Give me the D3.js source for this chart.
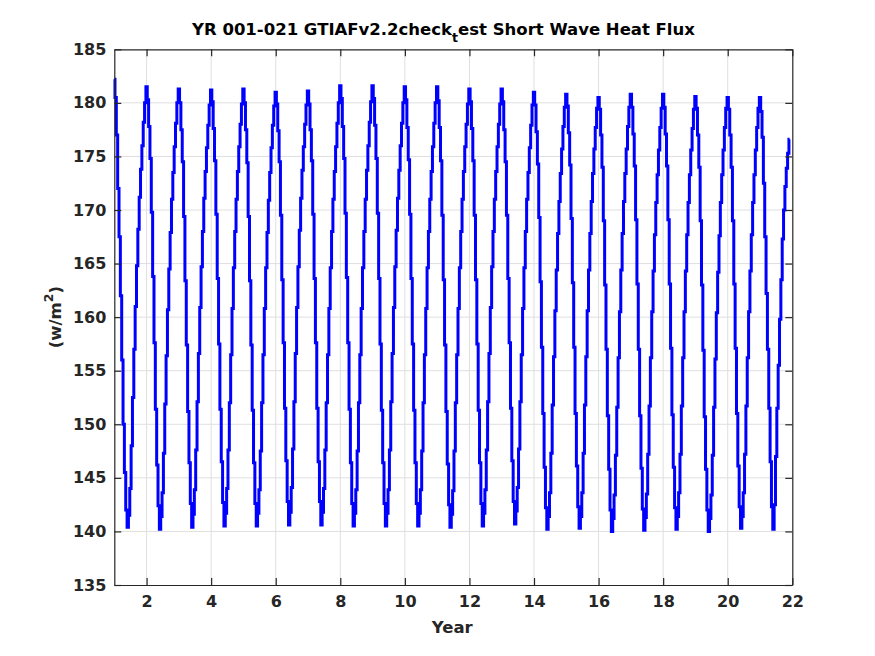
<!DOCTYPE html>
<html>
<head>
<meta charset="utf-8">
<script src="https://cdn.jsdelivr.net/npm/d3@7"></script>
<style>
  html, body { margin: 0; padding: 0; background: #ffffff; }
  svg { display: block; }
  text { font-family: "DejaVu Sans", "Liberation Sans", sans-serif; font-weight: bold; }
</style>
</head>
<body>
<svg id="chart" width="875" height="656"></svg>
<script>
// ---- data ----
const yearStarts = [1, 2, 3, 4, 5, 6, 7, 8, 9, 10, 11, 12, 13, 14, 15, 16, 17, 18, 19, 20, 21];
const samplesPerYear = 24;
// short wave heat flux (W/m^2), 24 samples per model year
const flux = [
  [182.2, 180.5, 177.0, 172.0, 167.5, 162.0, 156.0, 150.0, 145.5, 142.0, 140.4, 141.5, 144.0, 148.0, 152.5, 157.0, 161.0, 164.8, 168.2, 171.2, 173.8, 176.0, 178.2, 180.0],
  [181.5, 180.3, 177.8, 174.8, 169.8, 163.8, 157.6, 151.4, 146.2, 142.4, 140.2, 141.4, 143.6, 147.3, 151.9, 156.4, 160.7, 164.5, 167.9, 171.0, 173.5, 175.9, 178.1, 180.0],
  [181.3, 180.0, 177.5, 174.5, 169.4, 163.4, 157.4, 151.2, 146.4, 142.6, 140.4, 141.6, 143.9, 147.6, 152.1, 156.6, 160.9, 164.7, 168.0, 171.1, 173.6, 175.8, 177.9, 179.8],
  [181.2, 180.1, 177.6, 174.6, 169.6, 163.6, 157.5, 151.4, 146.5, 142.7, 140.5, 141.7, 144.0, 147.6, 152.0, 156.5, 160.8, 164.6, 168.0, 171.0, 173.6, 175.9, 178.0, 179.9],
  [181.3, 180.0, 177.5, 174.4, 169.4, 163.4, 157.4, 151.3, 146.4, 142.6, 140.5, 141.7, 143.9, 147.5, 152.0, 156.5, 160.8, 164.6, 167.9, 170.9, 173.5, 175.8, 177.9, 179.7],
  [181.0, 179.9, 177.4, 174.5, 169.5, 163.5, 157.6, 151.5, 146.6, 142.8, 140.6, 141.8, 144.1, 147.7, 152.1, 156.6, 160.9, 164.7, 168.1, 171.1, 173.7, 175.9, 178.0, 179.8],
  [181.1, 179.9, 177.5, 174.6, 169.6, 163.6, 157.6, 151.5, 146.5, 142.8, 140.6, 141.8, 144.0, 147.6, 152.0, 156.5, 160.8, 164.6, 168.0, 171.0, 173.6, 175.9, 178.1, 180.0],
  [181.6, 180.4, 177.8, 174.8, 169.7, 163.7, 157.6, 151.4, 146.4, 142.6, 140.5, 141.7, 143.9, 147.5, 152.0, 156.5, 160.8, 164.6, 168.0, 171.0, 173.7, 176.0, 178.2, 180.1],
  [181.6, 180.4, 177.9, 174.8, 169.7, 163.6, 157.5, 151.3, 146.4, 142.6, 140.5, 141.7, 143.9, 147.6, 152.1, 156.6, 160.9, 164.7, 168.1, 171.1, 173.7, 176.0, 178.1, 180.0],
  [181.5, 180.3, 177.7, 174.7, 169.6, 163.6, 157.5, 151.3, 146.4, 142.6, 140.5, 141.7, 143.9, 147.5, 152.0, 156.5, 160.8, 164.6, 168.0, 171.0, 173.6, 175.9, 178.1, 180.0],
  [181.5, 180.2, 177.7, 174.6, 169.5, 163.5, 157.4, 151.2, 146.3, 142.5, 140.4, 141.6, 143.8, 147.5, 152.0, 156.5, 160.8, 164.6, 168.0, 171.0, 173.6, 175.9, 178.0, 179.9],
  [181.3, 180.1, 177.6, 174.6, 169.5, 163.5, 157.5, 151.3, 146.4, 142.6, 140.5, 141.7, 143.9, 147.6, 152.1, 156.6, 160.9, 164.7, 168.0, 171.0, 173.6, 175.9, 178.0, 179.9],
  [181.3, 180.1, 177.5, 174.5, 169.5, 163.6, 157.6, 151.5, 146.6, 142.8, 140.7, 141.9, 144.1, 147.7, 152.1, 156.5, 160.8, 164.6, 168.0, 171.0, 173.5, 175.8, 177.9, 179.8],
  [181.0, 179.8, 177.3, 174.3, 169.3, 163.3, 157.2, 151.0, 146.0, 142.2, 140.2, 141.4, 143.6, 147.3, 151.8, 156.3, 160.6, 164.4, 167.8, 170.8, 173.4, 175.7, 177.8, 179.6],
  [180.8, 179.7, 177.2, 174.2, 169.2, 163.2, 157.2, 151.0, 146.1, 142.3, 140.3, 141.4, 143.6, 147.3, 151.8, 156.3, 160.6, 164.4, 167.8, 170.8, 173.4, 175.7, 177.7, 179.5],
  [180.5, 179.4, 177.0, 174.0, 169.0, 163.0, 157.0, 150.8, 145.8, 142.0, 140.0, 141.2, 143.4, 147.1, 151.6, 156.2, 160.5, 164.4, 167.8, 170.8, 173.4, 175.7, 177.8, 179.6],
  [180.8, 179.6, 177.1, 174.1, 169.1, 163.1, 157.0, 150.8, 145.9, 142.1, 140.1, 141.3, 143.5, 147.2, 151.7, 156.2, 160.5, 164.3, 167.7, 170.7, 173.3, 175.6, 177.7, 179.5],
  [180.8, 179.6, 177.1, 174.1, 169.1, 163.1, 157.1, 150.9, 146.0, 142.2, 140.2, 141.4, 143.6, 147.2, 151.7, 156.2, 160.5, 164.3, 167.7, 170.7, 173.3, 175.6, 177.6, 179.4],
  [180.6, 179.5, 177.0, 174.0, 169.0, 163.0, 156.9, 150.7, 145.8, 142.0, 140.0, 141.2, 143.4, 147.1, 151.6, 156.1, 160.4, 164.2, 167.6, 170.7, 173.3, 175.6, 177.7, 179.5],
  [180.5, 179.4, 177.0, 174.0, 169.0, 163.1, 157.1, 151.0, 146.1, 142.3, 140.3, 141.4, 143.6, 147.2, 151.7, 156.2, 160.5, 164.3, 167.7, 170.7, 173.3, 175.6, 177.7, 179.5],
  [180.5, 179.2, 176.8, 172.5, 167.5, 162.2, 157.0, 151.5, 146.5, 142.3, 140.2, 142.5, 147.0, 151.5, 155.5, 159.8, 163.5, 167.3, 170.0, 172.2, 173.9, 175.3, 176.6]
];
const xTicks = [2, 4, 6, 8, 10, 12, 14, 16, 18, 20, 22];
const yTicks = [135, 140, 145, 150, 155, 160, 165, 170, 175, 180, 185];
const xDomain = [1, 22];
const yDomain = [135, 185];
const titlePre = "YR 001-021 GTIAFv2.2check";
const titleSub = "t";
const titlePost = "est Short Wave Heat Flux";
const xLabel = "Year";
const yLabelMain = "(w/m";
const yLabelSup = "2";
const yLabelEnd = ")";

// ---- build series ----
const series = [];
flux.forEach((row, i) => {
  row.forEach((v, k) => series.push({ t: yearStarts[i] + k / samplesPerYear, v: v }));
});

// ---- layout ----
const L = 114.3, R = 792.3, T = 49.3, B = 585;
const axisColor = "#262626";
const svg = d3.select("#chart");

const x = d3.scaleLinear().domain(xDomain).range([L, R]);
const y = d3.scaleLinear().domain(yDomain).range([B, T]);

// grid
const grid = svg.append("g");
grid.selectAll("line.gx").data(xTicks.filter(d => d > xDomain[0] && d < xDomain[1])).enter()
  .append("line")
  .attr("x1", d => x(d)).attr("x2", d => x(d))
  .attr("y1", T).attr("y2", B)
  .attr("stroke", "#dfdfdf").attr("stroke-width", 1);
grid.selectAll("line.gy").data(yTicks.filter(d => d > yDomain[0] && d < yDomain[1])).enter()
  .append("line")
  .attr("x1", L).attr("x2", R)
  .attr("y1", d => y(d)).attr("y2", d => y(d))
  .attr("stroke", "#dfdfdf").attr("stroke-width", 1);

// data line
const line = d3.line().x(d => x(d.t)).y(d => y(d.v)).curve(d3.curveStep);
svg.append("path")
  .datum(series)
  .attr("d", line)
  .attr("fill", "none")
  .attr("stroke", "#0000ff")
  .attr("stroke-width", 3)
  .attr("stroke-linejoin", "miter");

// axes (ticks inward, box on)
const tickLen = 7;
const fontSize = 16;
const xAxisB = d3.axisBottom(x).tickValues(xTicks).tickSizeInner(-tickLen).tickSizeOuter(0).tickPadding(11);
const xAxisT = d3.axisTop(x).tickValues(xTicks).tickSizeInner(-tickLen).tickSizeOuter(0).tickFormat("");
const yAxisL = d3.axisLeft(y).tickValues(yTicks).tickSizeInner(-tickLen).tickSizeOuter(0).tickPadding(8);
const yAxisR = d3.axisRight(y).tickValues(yTicks).tickSizeInner(-tickLen).tickSizeOuter(0).tickFormat("");

function styleAxis(g) {
  g.select(".domain").attr("stroke", axisColor).attr("stroke-width", 1.2);
  g.selectAll(".tick line").attr("stroke", axisColor).attr("stroke-width", 1.2);
  g.selectAll(".tick text").attr("fill", axisColor)
    .style("font-size", fontSize + "px").style("font-weight", "bold")
    .style("font-family", "'DejaVu Sans', sans-serif");
}
svg.append("g").attr("transform", `translate(0,${B})`).call(xAxisB).call(styleAxis);
svg.append("g").attr("transform", `translate(0,${T})`).call(xAxisT).call(styleAxis);
svg.append("g").attr("transform", `translate(${L},0)`).call(yAxisL).call(styleAxis);
svg.append("g").attr("transform", `translate(${R},0)`).call(yAxisR).call(styleAxis);

// title
const title = svg.append("text")
  .attr("x", 192).attr("y", 35)
  .attr("text-anchor", "start")
  .attr("fill", "#000000")
  .style("font-size", "16.5px");
title.append("tspan").text(titlePre);
title.append("tspan").attr("dy", 7).style("font-size", "12.5px").text(titleSub);
title.append("tspan").attr("dy", -7).text(titlePost);

// x label
svg.append("text")
  .attr("x", (L + R) / 2 - 1).attr("y", 633)
  .attr("text-anchor", "middle")
  .attr("fill", axisColor)
  .style("font-size", "16.5px")
  .text(xLabel);

// y label
const yl = svg.append("text")
  .attr("transform", `translate(61,${(T + B) / 2}) rotate(-90)`)
  .attr("text-anchor", "middle")
  .attr("fill", axisColor)
  .style("font-size", "16.5px");
yl.append("tspan").text(yLabelMain);
yl.append("tspan").attr("dy", -8).style("font-size", "12.5px").text(yLabelSup);
yl.append("tspan").attr("dy", 8).text(yLabelEnd);
</script>
</body>
</html>
